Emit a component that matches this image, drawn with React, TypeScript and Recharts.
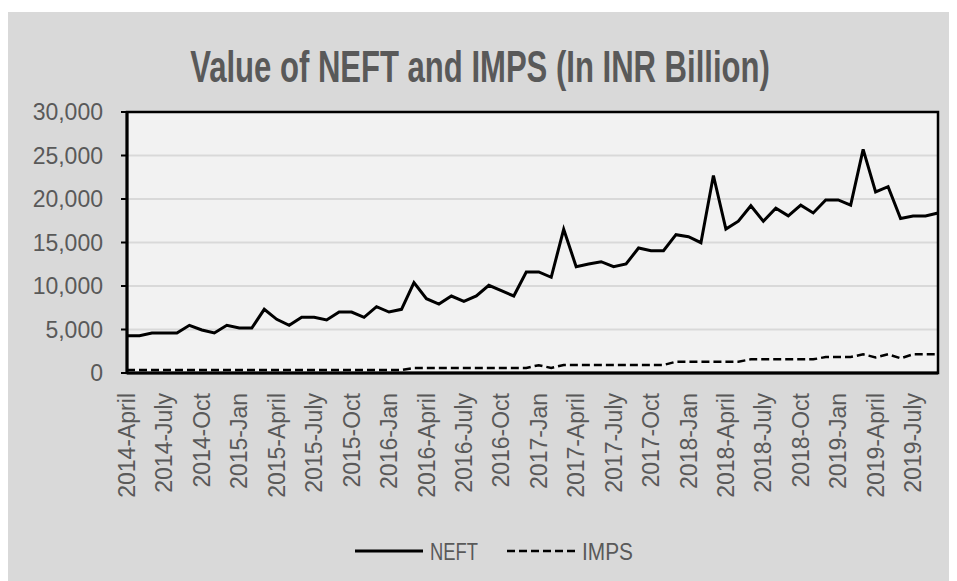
import { LineChart, Line, XAxis, YAxis, CartesianGrid, Legend, ReferenceArea } from 'recharts';

const months = [
  '2014-April', '2014-May', '2014-June', '2014-July', '2014-Aug', '2014-Sept', '2014-Oct', '2014-Nov', '2014-Dec',
  '2015-Jan', '2015-Feb', '2015-March', '2015-April', '2015-May', '2015-June', '2015-July', '2015-Aug', '2015-Sept',
  '2015-Oct', '2015-Nov', '2015-Dec', '2016-Jan', '2016-Feb', '2016-March', '2016-April', '2016-May', '2016-June',
  '2016-July', '2016-Aug', '2016-Sept', '2016-Oct', '2016-Nov', '2016-Dec', '2017-Jan', '2017-Feb', '2017-March',
  '2017-April', '2017-May', '2017-June', '2017-July', '2017-Aug', '2017-Sept', '2017-Oct', '2017-Nov', '2017-Dec',
  '2018-Jan', '2018-Feb', '2018-March', '2018-April', '2018-May', '2018-June', '2018-July', '2018-Aug', '2018-Sept',
  '2018-Oct', '2018-Nov', '2018-Dec', '2019-Jan', '2019-Feb', '2019-March', '2019-April', '2019-May', '2019-June',
  '2019-July', '2019-Aug', '2019-Sept',
];

const neft = [
  4290, 4290, 4600, 4600, 4600, 5480, 4940, 4600, 5480, 5170, 5170, 7320,
  6170, 5480, 6400, 6400, 6090, 7010, 7010, 6400, 7620, 7010, 7320, 10380,
  8540, 7930, 8850, 8240, 8850, 10080, 9460, 8850, 11610, 11610, 11000, 16520,
  12220, 12530, 12790, 12220, 12530, 14370, 14060, 14060, 15900, 15670, 14980, 22700,
  16540, 17450, 19230, 17450, 18950, 18060, 19290, 18400, 19890, 19890, 19290, 25710,
  20820, 21420, 17760, 18050, 18050, 18400,
];

const imps = [
  340, 340, 340, 340, 340, 340, 340, 340, 340, 340, 340, 340,
  340, 340, 340, 340, 340, 340, 340, 340, 340, 340, 340, 580,
  580, 580, 580, 580, 580, 580, 580, 580, 580, 900, 580, 920,
  920, 920, 920, 920, 920, 920, 920, 920, 1300, 1300, 1300, 1300,
  1300, 1300, 1570, 1570, 1570, 1570, 1570, 1570, 1840, 1840, 1840, 2150,
  1800, 2150, 1690, 2150, 2150, 2150,
];

const yTicks = [0, 5000, 10000, 15000, 20000, 25000, 30000];

const legendItems = [
  { name: 'NEFT', dash: undefined, textWidth: 48 },
  { name: 'IMPS', dash: '8 4', textWidth: 51 },
];

const data = months.map((m, i) => ({ month: m, NEFT: neft[i], IMPS: imps[i] }));

const FONT = '"Liberation Sans", Arial, sans-serif';
const TEXT = '#595959';

const XTick = ({ x, y, payload }: any) => (
  <g transform={`translate(${x},${y + 20}) rotate(-90)`}>
    <text x={0} y={0} dy="0.35em" textAnchor="end" fill={TEXT} fontSize={23} fontFamily={FONT}>
      {payload.value}
    </text>
  </g>
);

const renderLegend = () => {
  let cx = 347;
  return (
    <svg width={941} height={30}>
      {legendItems.map(item => {
        const x0 = cx;
        cx += 68 + 7 + item.textWidth + 29;
        return (
          <g key={item.name}>
            <line x1={x0} x2={x0 + 68} y1={15} y2={15} stroke="#000"
              strokeWidth={item.dash ? 2.5 : 3} strokeDasharray={item.dash} />
            <text x={x0 + 75} y={23.5} fontSize={24} fontFamily={FONT} fill={TEXT}
              textLength={item.textWidth} lengthAdjust="spacingAndGlyphs">{item.name}</text>
          </g>
        );
      })}
    </svg>
  );
};

export default function App() {
  return (
    <div style={{ position: 'relative', width: 941, height: 569, marginTop: 4, background: '#d9d9d9' }}>
      <LineChart width={941} height={569} data={data} margin={{ top: 100, right: 11, left: 0, bottom: 88 }}>
        <CartesianGrid vertical={false} stroke="#d9d9d9" strokeWidth={2} fill="#f2f2f2" />
        <XAxis dataKey="month" interval={2} tick={<XTick />} tickLine={false} tickSize={0} tickMargin={0}
          height={120} axisLine={{ stroke: '#000', strokeWidth: 3 }} />
        <YAxis domain={[0, 30000]} ticks={yTicks} width={119} tickSize={6} tickMargin={18}
          tickFormatter={v => Number(v).toLocaleString('en-US')}
          tick={{ fill: TEXT, fontSize: 23, fontFamily: FONT }}
          axisLine={{ stroke: '#000', strokeWidth: 3 }} tickLine={{ stroke: '#000', strokeWidth: 2 }} />
        <ReferenceArea y1={0} y2={30000} fill="none" stroke="#000" strokeWidth={2.5} />
        <Legend verticalAlign="middle" align="center" layout="horizontal"
          wrapperStyle={{ top: 524, left: 0, width: 941, height: 30 }} content={renderLegend} />
        <Line type="linear" dataKey="NEFT" name="NEFT" stroke="#000" strokeWidth={3} dot={false}
          isAnimationActive={false} />
        <Line type="linear" dataKey="IMPS" name="IMPS" stroke="#000" strokeWidth={2.5} strokeDasharray="8 4"
          dot={false} isAnimationActive={false} />
      </LineChart>
      <div style={{
        position: 'absolute', left: 0, top: 27, width: 941, textAlign: 'center', pointerEvents: 'none',
        fontFamily: FONT, fontSize: 45, fontWeight: 'bold', color: TEXT, lineHeight: '56px',
      }}>
        <span style={{ display: 'inline-block', transform: 'scaleX(0.69)', transformOrigin: '50% 50%', whiteSpace: 'nowrap', marginLeft: 3 }}>
          Value of NEFT and IMPS (In INR Billion)
        </span>
      </div>
    </div>
  );
}
